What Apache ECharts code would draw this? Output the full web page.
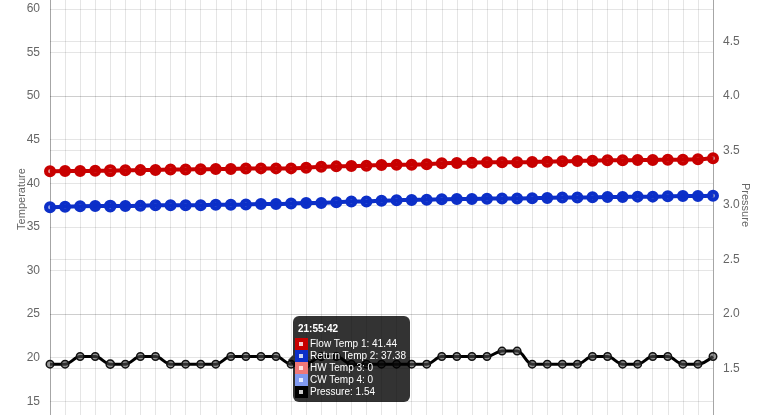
<!DOCTYPE html>
<html>
<head>
<meta charset="utf-8">
<script src="https://cdn.jsdelivr.net/npm/echarts@6/dist/echarts.min.js"></script>
<style>
html,body{margin:0;padding:0;background:#fff;overflow:hidden;width:758px;height:415px;position:relative;}
#chart{position:absolute;left:0;top:-130px;width:758px;height:800px;}
</style>
</head>
<body>
<div id="chart"></div>
<script>
var times = ['21:51:42','21:52:42','21:53:42','21:54:42','21:55:42','21:56:42','21:57:42','21:58:42','21:59:42','22:00:42',
  '22:01:42','22:02:42','22:03:42','22:04:42','22:05:42','22:06:42','22:07:42','22:08:42','22:09:42','22:10:42',
  '22:11:42','22:12:42','22:13:42','22:14:42','22:15:42','22:16:42','22:17:42','22:18:42','22:19:42','22:20:42',
  '22:21:42','22:22:42','22:23:42','22:24:42','22:25:42','22:26:42','22:27:42','22:28:42','22:29:42','22:30:42',
  '22:31:42','22:32:42','22:33:42','22:34:42','22:35:42'];
var flowTemp1 = [41.36,41.40,41.40,41.42,41.44,41.48,41.50,41.52,41.58,41.58,
  41.60,41.62,41.64,41.68,41.70,41.70,41.70,41.78,41.88,41.93,
  41.97,42.01,42.09,42.12,42.12,42.16,42.28,42.32,42.35,42.39,
  42.39,42.39,42.43,42.47,42.51,42.55,42.58,42.62,42.62,42.66,
  42.66,42.70,42.70,42.74,42.86];
var returnTemp2 = [37.24,37.31,37.36,37.38,37.38,37.39,37.40,37.46,37.46,37.46,
  37.48,37.54,37.54,37.56,37.62,37.62,37.66,37.73,37.73,37.81,
  37.89,37.89,38.00,38.04,38.08,38.11,38.15,38.19,38.19,38.22,
  38.25,38.25,38.27,38.31,38.35,38.35,38.38,38.42,38.42,38.46,
  38.46,38.50,38.54,38.54,38.57];
var hwTemp3 = [0,0,0,0,0,0,0,0,0,0,0,0,0,0,0,0,0,0,0,0,0,0,0,0,0,0,0,0,0,0,0,0,0,0,0,0,0,0,0,0,0,0,0,0,0];
var cwTemp4 = [0,0,0,0,0,0,0,0,0,0,0,0,0,0,0,0,0,0,0,0,0,0,0,0,0,0,0,0,0,0,0,0,0,0,0,0,0,0,0,0,0,0,0,0,0];
var pressure = [1.54,1.54,1.61,1.61,1.54,1.54,1.61,1.61,1.54,1.54,
  1.54,1.54,1.61,1.61,1.61,1.61,1.54,1.54,1.61,1.61,
  1.54,1.54,1.54,1.54,1.54,1.54,1.61,1.61,1.61,1.61,
  1.66,1.66,1.54,1.54,1.54,1.54,1.61,1.61,1.54,1.54,
  1.61,1.61,1.54,1.54,1.61];
var seriesNames = ['Flow Temp 1','Return Temp 2','HW Temp 3','CW Temp 4','Pressure'];
var seriesColors = ['#c80000','#0c2fc8','#f07878','#8099f0','#000000'];
var tempTicks = {min:0, max:75, interval:5};
var pressTicks = {min:0, max:6, interval:0.5};
var tipIndex = 4;

var chart = echarts.init(document.getElementById('chart'), null, {renderer:'canvas'});
var font = "'Liberation Sans', Arial, Helvetica, sans-serif";
var gridColor = 'rgba(0,0,0,0.1)';

function bigSeries(name, data, color, fill) {
  return {
    name: name, type: 'line', data: data, yAxisIndex: 0,
    smooth: 0.35, showAllSymbol: true, symbol: 'circle', symbolSize: 8,
    lineStyle: {color: color, width: 4},
    itemStyle: {color: fill, borderColor: color, borderWidth: 4},
    emphasis: {disabled: true}, animation: false
  };
}

var option = {
  animation: false,
  textStyle: {fontFamily: font},
  grid: {left: 50, right: 45, top: 8, bottom: 138, containLabel: false, outerBoundsMode: 'none'},
  xAxis: {
    type: 'category', data: times, boundaryGap: false,
    axisLine: {show: true, lineStyle: {color: gridColor}},
    axisTick: {show: false},
    axisLabel: {show: false},
    splitLine: {show: true, interval: 0, lineStyle: {color: gridColor, width: 1}}
  },
  yAxis: [
    {
      type: 'value', position: 'left', min: tempTicks.min, max: tempTicks.max, interval: tempTicks.interval,
      name: 'Temperature', nameLocation: 'middle', nameGap: 23, nameMoveOverlap: false,
      nameTextStyle: {color: '#666', fontSize: 11, fontFamily: font, padding: [0, 0, 0, 12]},
      axisLine: {show: true, lineStyle: {color: 'rgba(0,0,0,0.28)', width: 1}},
      axisTick: {show: false},
      axisLabel: {color: '#666', fontSize: 12, margin: 10, fontFamily: font},
      splitLine: {show: true, lineStyle: {color: gridColor, width: 1}}
    },
    {
      type: 'value', position: 'right', min: pressTicks.min, max: pressTicks.max, interval: pressTicks.interval,
      name: 'Pressure', nameLocation: 'middle', nameGap: 27, nameRotate: -90, nameMoveOverlap: false,
      nameTextStyle: {color: '#666', fontSize: 11, fontFamily: font},
      axisLine: {show: true, lineStyle: {color: 'rgba(0,0,0,0.28)', width: 1}},
      axisTick: {show: false},
      axisLabel: {color: '#666', fontSize: 12, margin: 10, fontFamily: font,
        formatter: function (v) { return v.toFixed(1); }},
      splitLine: {show: true, lineStyle: {color: gridColor, width: 1}}
    }
  ],
  tooltip: {
    show: true, trigger: 'axis', triggerOn: 'none', alwaysShowContent: true,
    axisPointer: {type: 'none'},
    transitionDuration: 0,
    padding: 0, borderWidth: 0,
    backgroundColor: 'rgba(0,0,0,0.8)',
    extraCssText: 'border-radius:6px;box-shadow:none;overflow:visible;',
    position: function () { return [293, 446]; },
    formatter: function (params) {
      var idx = params && params.length ? params[0].dataIndex : tipIndex;
      var vals = [flowTemp1[idx], returnTemp2[idx], hwTemp3[idx], cwTemp4[idx], pressure[idx]];
      var h = '<div style="position:relative;padding:7px 4px 4px 2px;font-family:' + font.replace(/'/g, '&quot;') + ';font-size:10px;color:#fff;line-height:12px;white-space:nowrap;">';
      h += '<span style="position:absolute;left:-5px;top:39px;width:0;height:0;border-top:5px solid transparent;border-bottom:5px solid transparent;border-right:5px solid rgba(0,0,0,0.8);"></span>';
      h += '<div style="font-weight:bold;padding-left:3px;margin-bottom:3px;height:12px;">' + times[idx] + '</div>';
      for (var i = 0; i < seriesNames.length; i++) {
        h += '<div style="height:12px;display:flex;align-items:center;">' +
          '<span style="display:inline-block;width:13px;height:12px;background:' + seriesColors[i] + ';position:relative;">' +
          '<span style="position:absolute;left:4px;top:4px;width:4px;height:4px;background:rgba(255,255,255,0.8);"></span></span>' +
          '<span style="margin-left:2px;">' + seriesNames[i] + ': ' + vals[i] + '</span></div>';
      }
      h += '</div>';
      return h;
    }
  },
  series: [
    bigSeries(seriesNames[0], flowTemp1, seriesColors[0], 'rgba(200,0,0,0.45)'),
    bigSeries(seriesNames[1], returnTemp2, seriesColors[1], 'rgba(12,47,200,0.45)'),
    bigSeries(seriesNames[2], hwTemp3, seriesColors[2], 'rgba(240,120,120,0.45)'),
    bigSeries(seriesNames[3], cwTemp4, seriesColors[3], 'rgba(128,153,240,0.45)'),
    {
      name: seriesNames[4], type: 'line', data: pressure, yAxisIndex: 1,
      smooth: 0.35, showAllSymbol: true, symbol: 'circle', symbolSize: 7.5,
      lineStyle: {color: '#000', width: 3},
      itemStyle: {color: 'rgba(80,80,80,0.6)', borderColor: '#111', borderWidth: 1.5},
      emphasis: {disabled: true}, animation: false, z: 3
    }
  ]
};
chart.setOption(option);
chart.dispatchAction({type: 'showTip', seriesIndex: 0, dataIndex: tipIndex});
</script>
</body>
</html>
